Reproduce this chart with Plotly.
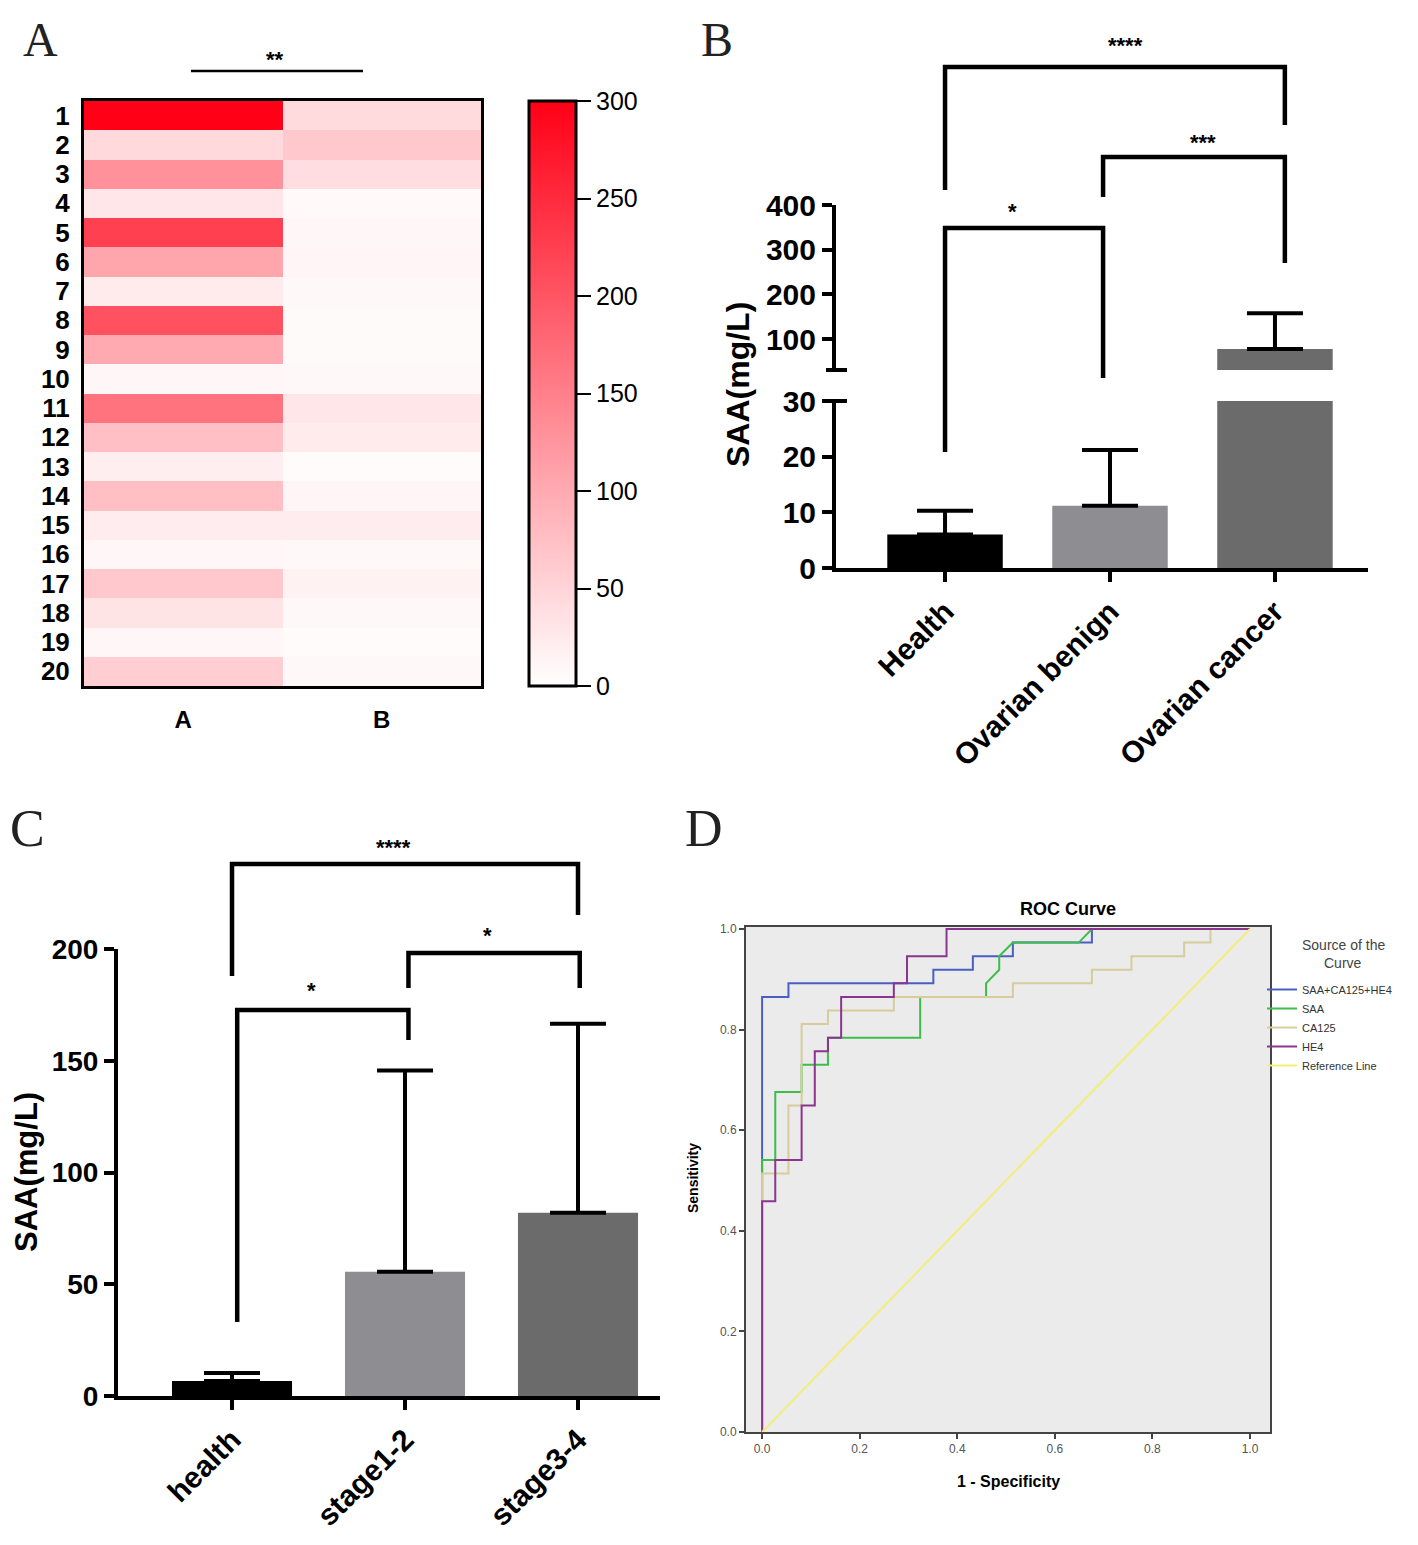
import plotly.graph_objects as go

# page size and body offset (browser default body margin of 8px)
W, H = 1418, 1545
OFF = 8
FW, FH = W - OFF, H - OFF


def X(px):
    return (px - OFF) / FW


def Y(py):
    return 1 - (py - OFF) / FH


# ---------------- Panel A data (heatmap) ----------------
heat_rows = [str(i) for i in range(1, 21)]
heat_cols = ["A", "B"]
heat_A = [300, 45, 130, 28, 225, 105, 25, 205, 100, 10, 165, 75, 20, 75, 22, 10, 65, 32, 10, 58]
heat_B = [42, 65, 40, 7, 10, 12, 8, 6, 6, 8, 30, 25, 5, 12, 22, 8, 15, 8, 5, 8]
heat_ticks = [0, 50, 100, 150, 200, 250, 300]

# ---------------- Panel B data ----------------
b_groups = ["Health", "Ovarian benign", "Ovarian cancer"]
b_mean = [6.0, 11.2, 78.0]
b_sd = [4.3, 10.0, 80.0]
b_low_ticks = [0, 10, 20, 30]
b_high_ticks = [100, 200, 300, 400]

# ---------------- Panel C data ----------------
c_groups = ["health", "stage1-2", "stage3-4"]
c_mean = [6.7, 55.6, 82.0]
c_sd = [3.6, 90.0, 84.5]
c_ticks = [0, 50, 100, 150, 200]

# ---------------- Panel D data (ROC) ----------------
roc_names = ["SAA+CA125+HE4", "SAA", "CA125", "HE4", "Reference Line"]
fpr_combo = [0, 0, 0.054, 0.054, 0.351, 0.351, 0.432, 0.432, 0.514, 0.514, 0.676, 0.676, 1.0]
tpr_combo = [0, 0.865, 0.865, 0.892, 0.892, 0.919, 0.919, 0.946, 0.946, 0.973, 0.973, 1.0, 1.0]
fpr_saa = [0, 0, 0.027, 0.027, 0.081, 0.081, 0.135, 0.135, 0.324, 0.324, 0.459, 0.459, 0.486, 0.486, 0.514, 0.649, 0.676, 1.0]
tpr_saa = [0, 0.541, 0.541, 0.676, 0.676, 0.730, 0.730, 0.784, 0.784, 0.865, 0.865, 0.892, 0.919, 0.946, 0.973, 0.973, 1.0, 1.0]
fpr_ca125 = [0, 0, 0.054, 0.054, 0.081, 0.081, 0.135, 0.135, 0.270, 0.270, 0.514, 0.514, 0.676, 0.676, 0.757, 0.757, 0.865, 0.865, 0.919, 0.919, 1.0]
tpr_ca125 = [0, 0.514, 0.514, 0.649, 0.649, 0.811, 0.811, 0.838, 0.838, 0.865, 0.865, 0.892, 0.892, 0.919, 0.919, 0.946, 0.946, 0.973, 0.973, 1.0, 1.0]
fpr_he4 = [0, 0, 0.027, 0.027, 0.081, 0.081, 0.108, 0.108, 0.135, 0.135, 0.162, 0.162, 0.270, 0.270, 0.297, 0.297, 0.378, 0.378, 1.0]
tpr_he4 = [0, 0.459, 0.459, 0.541, 0.541, 0.649, 0.649, 0.757, 0.757, 0.784, 0.784, 0.865, 0.865, 0.892, 0.892, 0.946, 0.946, 1.0, 1.0]
fpr_ref = [0, 1]
tpr_ref = [0, 1]
roc_ticks = [0, 0.2, 0.4, 0.6, 0.8, 1.0]

roc_colors = ["#4A5FC4", "#3DBE4B", "#D6CC9C", "#8A358E", "#F2EE78"]
b_colors = ["#000000", "#8D8D92", "#6B6B6B"]
c_colors = ["#000000", "#8D8D92", "#6B6B6B"]

SANS = "Liberation Sans, Arial, sans-serif"
SERIF = "Liberation Serif, Times New Roman, serif"

fig = go.Figure()

# ---------------- Panel A ----------------
z = [[a, b] for a, b in zip(heat_A, heat_B)]
fig.add_trace(go.Heatmap(
    z=z, x=heat_cols, y=heat_rows, xaxis="x", yaxis="y",
    zmin=0, zmax=300,
    colorscale=[[0, "#FFFFFF"], [1, "#FF0016"]],
    showscale=True,
    colorbar=dict(
        x=X(529), xanchor="left", xpad=0, ypad=0,
        y=(Y(686) + Y(101)) / 2, yanchor="middle",
        len=Y(101) - Y(686), lenmode="fraction",
        thickness=47, outlinewidth=3, outlinecolor="black",
        tickvals=heat_ticks, ticks="outside", ticklen=14, tickwidth=2, tickcolor="black",
        tickfont=dict(family=SANS, size=25, color="black"),
    ),
    hoverinfo="skip",
))

# ---------------- Panel B ----------------
b_x = list(range(len(b_groups)))
for yax in ["y2", "y3"]:
    fig.add_trace(go.Bar(
        x=b_x, y=b_mean, xaxis="x2", yaxis=yax, width=0.70,
        marker=dict(color=b_colors, line=dict(width=0)),
        error_y=dict(type="data", array=b_sd, arrayminus=[0] * 3, symmetric=False,
                     thickness=4, width=28, color="black"),
        showlegend=False, hoverinfo="skip",
    ))

# ---------------- Panel C ----------------
c_x = list(range(len(c_groups)))
fig.add_trace(go.Bar(
    x=c_x, y=c_mean, xaxis="x3", yaxis="y4", width=0.694,
    marker=dict(color=c_colors, line=dict(width=0)),
    error_y=dict(type="data", array=c_sd, arrayminus=[0] * 3, symmetric=False,
                 thickness=4, width=28, color="black"),
    showlegend=False, hoverinfo="skip",
))

# ---------------- Panel D ----------------
roc_fprs = [fpr_combo, fpr_saa, fpr_ca125, fpr_he4, fpr_ref]
roc_tprs = [tpr_combo, tpr_saa, tpr_ca125, tpr_he4, tpr_ref]
for name, fx, ty, col in zip(roc_names, roc_fprs, roc_tprs, roc_colors):
    fig.add_trace(go.Scatter(
        x=fx, y=ty, xaxis="x4", yaxis="y5", mode="lines", name=name,
        line=dict(color=col, width=2), showlegend=True, hoverinfo="skip",
    ))

tickB = dict(family=SANS, size=30, color="black", weight="bold")
tickC = dict(family=SANS, size=28, color="black", weight="bold")
common = dict(showgrid=False, zeroline=False, automargin=False)

layout = dict(
    template="none",
    width=FW, height=FH,
    margin=dict(l=0, r=0, t=0, b=0, pad=0),
    paper_bgcolor="white", plot_bgcolor="white",
    showlegend=True,
    legend=dict(x=X(1262), y=Y(975), xanchor="left", yanchor="top",
                font=dict(family=SANS, size=11, color="#333"),
                bgcolor="rgba(0,0,0,0)", itemwidth=30, tracegroupgap=0,
                borderwidth=0),
    # Panel A axes
    xaxis=dict(domain=[X(84), X(481)], anchor="y", **common,
               showline=True, mirror=True, linewidth=3, linecolor="black",
               ticks="outside", ticklen=10, tickcolor="rgba(0,0,0,0)",
               tickfont=dict(family=SANS, size=24, color="black", weight="bold")),
    yaxis=dict(domain=[Y(686), Y(101)], anchor="x", autorange="reversed", **common,
               showline=True, mirror=True, linewidth=3, linecolor="black",
               ticks="outside", ticklen=6, tickcolor="rgba(0,0,0,0)", dtick=1,
               tickfont=dict(family=SANS, size=26, color="black", weight="bold")),
    # Panel B axes
    xaxis2=dict(domain=[X(836), X(1368)], anchor="y2", range=[-0.661, 2.564], **common,
                tickvals=b_x, ticktext=b_groups, tickangle=-45,
                showline=True, linewidth=4, linecolor="black",
                ticks="outside", ticklen=10, tickwidth=4, tickcolor="black", tickfont=tickB),
    yaxis2=dict(domain=[Y(568), Y(401)], anchor="x2", range=[0, 30], tickvals=b_low_ticks, **common,
                showline=True, linewidth=4, linecolor="black",
                ticks="outside", ticklen=10, tickwidth=4, tickcolor="black", tickfont=tickB),
    yaxis3=dict(domain=[Y(370), Y(205)], anchor="x2", range=[31, 400], tickvals=b_high_ticks, **common,
                showline=True, linewidth=4, linecolor="black",
                ticks="outside", ticklen=10, tickwidth=4, tickcolor="black", tickfont=tickB),
    # Panel C axes
    xaxis3=dict(domain=[X(118), X(660)], anchor="y4", range=[-0.659, 2.474], **common,
                tickvals=c_x, ticktext=c_groups, tickangle=-45,
                showline=True, linewidth=4, linecolor="black",
                ticks="outside", ticklen=10, tickwidth=4, tickcolor="black", tickfont=tickB),
    yaxis4=dict(domain=[Y(1396), Y(949)], anchor="x3", range=[0, 200], tickvals=c_ticks, **common,
                showline=True, linewidth=4, linecolor="black",
                ticks="outside", ticklen=10, tickwidth=4, tickcolor="black", tickfont=tickC),
    # Panel D axes
    xaxis4=dict(domain=[X(746), X(1270)], anchor="y5", range=[-0.033, 1.041], **common,
                tickvals=roc_ticks, tickformat=".1f",
                showline=True, mirror=True, linewidth=2,
                linecolor="#444", ticks="outside", ticklen=5, tickwidth=1.5, tickcolor="#444",
                tickfont=dict(family=SANS, size=12, color="#555")),
    yaxis5=dict(domain=[Y(1432), Y(927)], anchor="x4", range=[0, 1.004], **common,
                tickvals=roc_ticks, tickformat=".1f",
                showline=True, mirror=True, linewidth=2,
                linecolor="#444", ticks="outside", ticklen=5, tickwidth=1.5, tickcolor="#444",
                tickfont=dict(family=SANS, size=12, color="#555")),
)
fig.update_layout(**layout)

shapes = []
annotations = []


def text(x, y, s, size, family=SANS, bold=True, angle=0, color="black"):
    annotations.append(dict(
        x=X(x), y=Y(y), xref="paper", yref="paper", text=s, showarrow=False,
        xanchor="center", yanchor="middle", textangle=angle,
        font=dict(family=family, size=size, color=color, weight="bold" if bold else "normal"),
    ))


def bracket(xref, x0, x1, ytop, yl, yr, width=4.5):
    shapes.append(dict(
        type="path", xref=xref, yref="paper",
        path=f"M {x0},{Y(yl)} L {x0},{Y(ytop)} L {x1},{Y(ytop)} L {x1},{Y(yr)}",
        line=dict(color="black", width=width),
    ))


# Panel labels
text(40, 40, "A", 48, family=SERIF, bold=False, color="#222")
text(717, 40, "B", 48, family=SERIF, bold=False, color="#222")
text(27, 828, "C", 52, family=SERIF, bold=False, color="#222")
text(704, 828, "D", 52, family=SERIF, bold=False, color="#222")

# Panel A significance
shapes.append(dict(type="line", xref="paper", yref="paper",
                   x0=X(191), x1=X(363), y0=Y(71), y1=Y(71),
                   line=dict(color="black", width=2.5)))
text(275, 60, "**", 22)

# Panel B brackets
bracket("x2", 0, 0.958, 228, 452, 378)
bracket("x2", 0.958, 2.06, 157, 197, 263)
bracket("x2", 0, 2.06, 67, 190, 125)
text(1012, 212, "*", 22)
text(1203, 142, "***", 22)
text(1125, 46, "****", 22)
# axis break caps
for ypx in (370, 401):
    shapes.append(dict(type="line", xref="paper", yref="paper",
                       x0=X(826), x1=X(847), y0=Y(ypx), y1=Y(ypx),
                       line=dict(color="black", width=4)))
text(738, 385, "SAA(mg/L)", 32, angle=-90)

# Panel C brackets
bracket("x3", 0.03, 1.02, 1010, 1322, 1040)
bracket("x3", 1.02, 2.01, 953, 988, 988)
bracket("x3", 0, 2.0, 864, 976, 915)
text(311, 990, "*", 22)
text(487, 935, "*", 22)
text(393, 847, "****", 22)
text(26, 1172, "SAA(mg/L)", 31, angle=-90)

# Panel D decorations
shapes.append(dict(type="rect", xref="x4 domain", yref="y5 domain", x0=0, x1=1, y0=0, y1=1,
                   fillcolor="#EBEBEB", line=dict(width=0), layer="below"))
text(1068, 909, "ROC Curve", 18)
text(1008, 1481, "1 - Specificity", 16)
text(693, 1178, "Sensitivity", 14, angle=-90)
text(1343, 945, "Source of the", 14, bold=False, color="#444")
text(1343, 963, "Curve", 14, bold=False, color="#444")

fig.update_layout(shapes=shapes, annotations=annotations)
fig.write_html("out.html")
